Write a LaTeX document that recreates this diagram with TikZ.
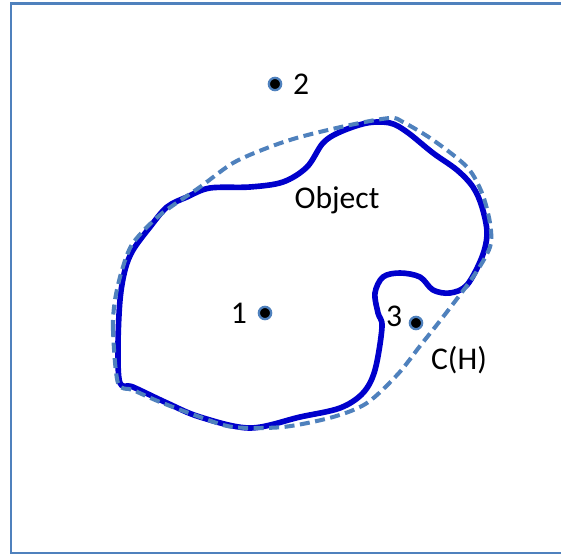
\documentclass[tikz,border=0pt]{standalone}
\usepackage{fontspec}
\setmainfont{Carlito}
\usepackage{tikz}
\usetikzlibrary{positioning}
\definecolor{frameBlue}{RGB}{79,129,189}
\definecolor{objectBlue}{RGB}{0,0,204}

\begin{document}
\begin{tikzpicture}[x=0.02cm, y=-0.02cm,
    objline/.style={line width=3.2pt, objectBlue, line join=round},
    hullline/.style={line width=2.3pt, frameBlue, dash pattern=on 0.2cm off 0.11cm},
    pt/.style={circle, fill=black, draw=frameBlue, line width=1.3pt, inner sep=0pt, minimum size=7pt},
    lbl/.style={font=\fontsize{18}{20}\selectfont, inner sep=1pt}]
  \useasboundingbox (0,0) rectangle (561,554);
  % frame (right side is cut off)
  \draw[frameBlue, line width=1.3pt] (565,3.5) -- (11,3.5) -- (11,553) -- (565,553);
  % the object
  \draw[objline] plot[smooth cycle, tension=0.55] coordinates {
    (120,383) (118,347) (120,300) (125,270) (133,250) (150,227) (167,207)
    (187,197) (210,188) (250,187) (283,182) (307,167) (323,143) (340,132)
    (367,123) (390,123) (407,132) (433,153) (457,170) (473,187) (482,207)
    (487,233) (482,257) (467,285) (450,293) (433,290) (420,277) (400,273)
    (383,277) (375,293) (378,313) (382,327) (375,370) (363,393) (340,408)
    (300,417) (250,428) (200,417) (167,403) (133,387)};
  % convex hull C(H)
  \draw[hullline] plot[smooth cycle, tension=0.5] coordinates {
    (118,383) (113,330) (115,300) (122,270) (133,243) (160,215) (200,187)
    (233,163) (267,148) (300,137) (350,125) (390,118) (403,122) (433,140)
    (467,167) (482,193) (490,223) (490,247) (473,277) (443,317) (420,346)
    (398,374) (367,403) (333,417) (283,427) (233,427) (200,417) (160,402)
    (133,390)};
  % points
  \node[pt] (p1) at (265,313) {};
  \node[pt] (p2) at (275,84) {};
  \node[pt] (p3) at (416,323) {};
  \node[lbl, left=5pt of p1] (l1) {1};
  \node[lbl, right=5pt of p2] (l2) {2};
  \node[lbl, left=2.5pt of p3, yshift=4pt] (l3) {3};
  \node[lbl] (obj) at (337,200) {Object};
  \node[lbl] (ch) at (459,360) {C(H)};
\end{tikzpicture}
\end{document}
